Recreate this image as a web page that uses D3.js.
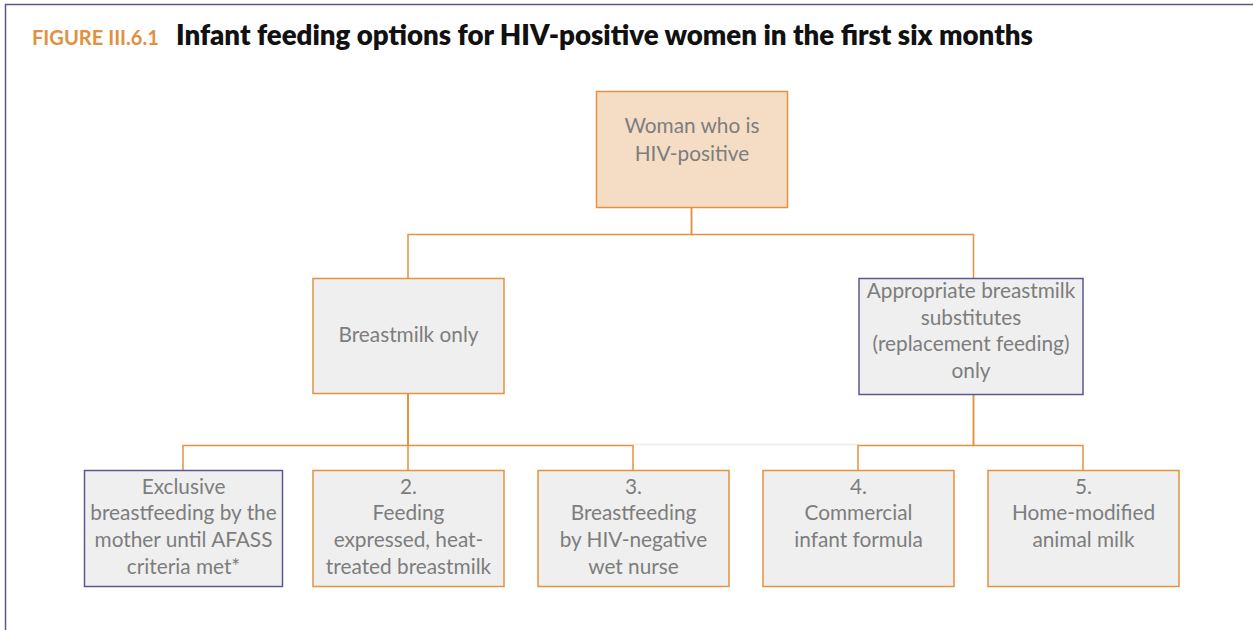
<!DOCTYPE html>
<html>
<head>
<meta charset="utf-8">
<script src="https://cdn.jsdelivr.net/npm/d3@7"></script>
<style>
  body { margin: 0; background: #fff; }
  svg { display: block; }
  text { font-family: "Lato", "Open Sans", sans-serif; }
</style>
</head>
<body>
<div id="canvas"></div>
<script>
// figure caption
var figureLabel = "FIGURE III.6.1";
var figureTitle = "Infant feeding options for HIV-positive women in the first six months";

// tree nodes: id, parent, text lines
var nodeIds     = ["root", "milk", "subst", "opt1", "opt2", "opt3", "opt4", "opt5"];
var nodeParents = [null, "root", "root", "milk", "milk", "milk", "subst", "subst"];
var nodeLines   = [
  ["Woman who is", "HIV-positive"],
  ["Breastmilk only"],
  ["Appropriate breastmilk", "substitutes", "(replacement feeding)", "only"],
  ["Exclusive", "breastfeeding by the", "mother until AFASS", "criteria met*"],
  ["2.", "Feeding", "expressed, heat-", "treated breastmilk"],
  ["3.", "Breastfeeding", "by HIV-negative", "wet nurse"],
  ["4.", "Commercial", "infant formula"],
  ["5.", "Home-modified", "animal milk"]
];

var ORANGE = "#e6913d", PURPLE = "#5b5791", TEXT = "#7d7d7d";

var W = 1253, H = 630;
var svg = d3.select("#canvas").append("svg").attr("width", W).attr("height", H);

// outer frame (runs off the right and bottom of the page)
svg.append("rect")
  .attr("x", 5.5).attr("y", 4.5)
  .attr("width", 1400).attr("height", 800)
  .attr("fill", "none").attr("stroke", PURPLE).attr("stroke-width", 1.5);

// caption
var cap = svg.append("text").attr("y", 45);
var labelSpan = cap.append("tspan")
  .attr("x", 32)
  .attr("fill", "#e0913f").attr("font-weight", 700).attr("font-size", 16)
  .text(figureLabel);
var lLen = labelSpan.node().getComputedTextLength();
labelSpan.attr("font-size", 16 * 127 / lLen);
var titleSpan = cap.append("tspan")
  .attr("x", 176)
  .attr("fill", "#111").attr("font-weight", 800).attr("font-size", 24)
  .text(figureTitle);
// fit the title to the width used in the original
var tLen = titleSpan.node().getComputedTextLength();
titleSpan.attr("font-size", 24 * 857 / tLen);

// build the hierarchy
var table = nodeIds.map((id, i) => ({ id: id, parent: nodeParents[i], lines: nodeLines[i] }));
var root = d3.stratify().id(d => d.id).parentId(d => d.parent)(table);

// leaf columns are evenly spaced; upper levels sit over given columns
var col = d3.scaleLinear().domain([0, 4]).range([183, 1083]);
var level = d3.scaleLinear().domain([0, 2]).range([91, 470]);
var column = { root: 2.26, milk: 1, subst: 3.5 };
var boxW = { root: 191, subst: 224, opt1: 198 };
var boxH = { root: 116, milk: 115, subst: 116 };
var firstLine = { root: 42, subst: 20, milk: 64 };
var purpleBox = { subst: true, opt1: true };

root.descendants().forEach(d => {
  var c = d.depth === 2 ? d.parent.children.indexOf(d) + (d.parent.id === "subst" ? 3 : 0) : column[d.id];
  d.cx = col(c);
  d.w = boxW[d.id] || 191;
  d.h = boxH[d.id] || 116;
  d.x0 = d.cx - d.w / 2;
  d.y0 = d.depth === 2 ? level(2) : d.depth === 1 ? 278 : level(0);
});

// faint gray rule between the two bottom groups
svg.append("line")
  .attr("x1", col(2)).attr("x2", col(3)).attr("y1", 444.5).attr("y2", 444.5)
  .attr("stroke", "#ececec").attr("stroke-width", 1.5);

// elbow connectors
var links = root.links();
svg.selectAll("path.link")
  .data(links)
  .enter()
  .append("path")
  .attr("class", "link")
  .attr("fill", "none")
  .attr("stroke", ORANGE)
  .attr("stroke-width", 1.5)
  .attr("d", l => {
    var s = l.source, t = l.target;
    var sx = s.id === "subst" ? s.cx + 3 : s.cx;
    var y1 = s.y0 + s.h;
    var ym = s.id === "root" ? 234.5 : 445.5;
    var tx = t.id === "subst" ? t.cx + 3 : t.cx;
    return `M${sx},${y1} V${ym} H${tx} V${t.y0}`;
  });

// boxes
var boxes = svg.selectAll("g.node")
  .data(root.descendants())
  .enter()
  .append("g")
  .attr("class", "node")
  .attr("transform", d => `translate(${d.x0},${d.y0})`);

boxes.append("rect")
  .attr("x", 0.5).attr("y", 0.5)
  .attr("width", d => d.w).attr("height", d => d.h)
  .attr("fill", d => d.depth === 0 ? "#f4ddc4" : "#efefef")
  .attr("stroke", d => purpleBox[d.id] ? PURPLE : ORANGE)
  .attr("stroke-width", 1.5);

boxes.append("text")
  .attr("text-anchor", "middle")
  .attr("fill", TEXT)
  .attr("font-size", 20.8)
  .selectAll("tspan")
  .data(d => d.data.lines.map((s, i) => ({ s: s, i: i, node: d })))
  .enter()
  .append("tspan")
  .attr("x", d => d.node.w / 2 + 0.5)
  .attr("y", d => {
    var off = firstLine[d.node.id] !== undefined ? firstLine[d.node.id] : 23.5;
    var lh = d.node.depth === 0 ? 28 : 26.7;
    return off + d.i * lh;
  })
  .text(d => d.s);
</script>
</body>
</html>
